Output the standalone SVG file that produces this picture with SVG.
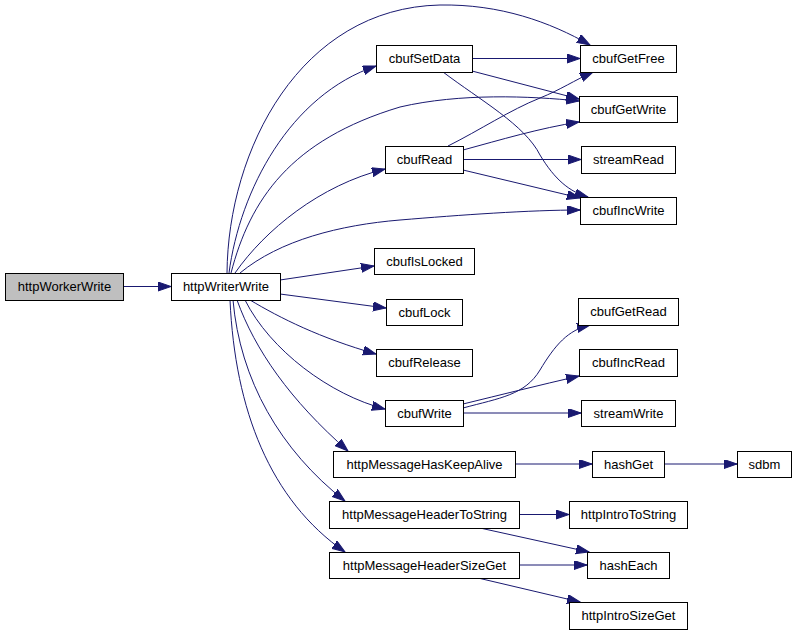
<svg xmlns="http://www.w3.org/2000/svg" width="797" height="634" viewBox="0 0 797 634">
<style>
.n rect{fill:#fff;stroke:#000;stroke-width:1}
.n text{font-family:"Liberation Sans",Arial,sans-serif;font-size:13px;text-anchor:middle;fill:#000}
#edges path{fill:none;stroke:#191970;stroke-width:1;marker-end:url(#a)}
</style>
<defs>
<marker id="a" markerUnits="userSpaceOnUse" markerWidth="14" markerHeight="10" refX="13" refY="4.5" orient="auto">
<path d="M0,0 L13,4.5 L0,9 z" fill="#191970" stroke="#191970" stroke-width="1"/>
</marker>
</defs>
<rect width="797" height="634" fill="#fff"/>
<g id="edges">
<path d="M123,286.5 L171,286.5"/>
<path d="M227,273 C228,150 300,8 440,5 C500,4 550,22 590,45"/>
<path d="M229,273 C240,190 290,95 376,66"/>
<path d="M231,273 C250,200 290,140 400,107 C460,93 530,96 579,101"/>
<path d="M235,273 C265,230 320,185 385,169"/>
<path d="M240,273 C280,240 340,225 400,220 C460,215 530,210 580,210"/>
<path d="M280,280 L374,266"/>
<path d="M280,294 L386,308"/>
<path d="M250,300 C280,318 320,338 376,354"/>
<path d="M245,300 C270,350 330,395 385,409"/>
<path d="M237,300 C255,350 290,400 348,451"/>
<path d="M233,300 C240,380 280,450 345,501"/>
<path d="M230,300 C235,410 270,500 345,552"/>
<path d="M472,58.5 L580,58.5"/>
<path d="M472,71 L579,99"/>
<path d="M443,72 C480,100 525,125 540,155 C555,180 570,192 588,197"/>
<path d="M448,146 C480,130 510,110 540,98 C560,90 575,80 593,72"/>
<path d="M463,150 C500,140 540,128 579,122"/>
<path d="M463,159.5 L581,159.5"/>
<path d="M463,170 L580,198"/>
<path d="M463,408 C500,398 525,395 540,370 C555,345 568,330 590,325"/>
<path d="M463,404 C500,395 540,385 579,376"/>
<path d="M463,413 L581,413"/>
<path d="M515,464 L592,464"/>
<path d="M664,464 L737,464"/>
<path d="M519,514.5 L569,514.5"/>
<path d="M480,528 L589,552"/>
<path d="M519,565 L587,565"/>
<path d="M478,578 L580,602"/>
</g>
<g id="httpWorkerWrite" class="n"><rect x="5.5" y="273.5" width="118" height="27" style="fill:#bfbfbf"/><text x="64.5" y="291">httpWorkerWrite</text></g>
<g id="httpWriterWrite" class="n"><rect x="171.5" y="273.5" width="109" height="27"/><text x="226" y="291">httpWriterWrite</text></g>
<g id="cbufSetData" class="n"><rect x="376.5" y="45.5" width="96" height="27"/><text x="424.5" y="63">cbufSetData</text></g>
<g id="cbufGetFree" class="n"><rect x="580.5" y="45.5" width="96" height="27"/><text x="628.5" y="63">cbufGetFree</text></g>
<g id="cbufGetWrite" class="n"><rect x="579.5" y="96.5" width="98" height="26"/><text x="628.5" y="113.5">cbufGetWrite</text></g>
<g id="cbufRead" class="n"><rect x="385.5" y="146.5" width="78" height="27"/><text x="424.5" y="164">cbufRead</text></g>
<g id="streamRead" class="n"><rect x="581.5" y="146.5" width="94" height="27"/><text x="628.5" y="164">streamRead</text></g>
<g id="cbufIncWrite" class="n"><rect x="580.5" y="197.5" width="96" height="27"/><text x="628.5" y="215">cbufIncWrite</text></g>
<g id="cbufIsLocked" class="n"><rect x="374.5" y="248.5" width="100" height="26"/><text x="424.5" y="265.5">cbufIsLocked</text></g>
<g id="cbufLock" class="n"><rect x="386.5" y="299.5" width="76" height="26"/><text x="424.5" y="316.5">cbufLock</text></g>
<g id="cbufGetRead" class="n"><rect x="578.5" y="298.5" width="100" height="27"/><text x="628.5" y="316">cbufGetRead</text></g>
<g id="cbufRelease" class="n"><rect x="376.5" y="349.5" width="96" height="27"/><text x="424.5" y="367">cbufRelease</text></g>
<g id="cbufIncRead" class="n"><rect x="579.5" y="349.5" width="98" height="27"/><text x="628.5" y="367">cbufIncRead</text></g>
<g id="cbufWrite" class="n"><rect x="385.5" y="400.5" width="78" height="26"/><text x="424.5" y="417.5">cbufWrite</text></g>
<g id="streamWrite" class="n"><rect x="581.5" y="400.5" width="94" height="26"/><text x="628.5" y="417.5">streamWrite</text></g>
<g id="httpMessageHasKeepAlive" class="n"><rect x="333.5" y="451.5" width="182" height="26"/><text x="424.5" y="468.5">httpMessageHasKeepAlive</text></g>
<g id="hashGet" class="n"><rect x="592.5" y="451.5" width="72" height="26"/><text x="628.5" y="468.5">hashGet</text></g>
<g id="sdbm" class="n"><rect x="737.5" y="451.5" width="54" height="26"/><text x="764.5" y="468.5">sdbm</text></g>
<g id="httpMessageHeaderToString" class="n"><rect x="329.5" y="501.5" width="190" height="27"/><text x="424.5" y="519">httpMessageHeaderToString</text></g>
<g id="httpIntroToString" class="n"><rect x="569.5" y="501.5" width="118" height="27"/><text x="628.5" y="519">httpIntroToString</text></g>
<g id="httpMessageHeaderSizeGet" class="n"><rect x="329.5" y="552.5" width="190" height="26"/><text x="424.5" y="569.5">httpMessageHeaderSizeGet</text></g>
<g id="hashEach" class="n"><rect x="587.5" y="552.5" width="82" height="26"/><text x="628.5" y="569.5">hashEach</text></g>
<g id="httpIntroSizeGet" class="n"><rect x="569.5" y="602.5" width="118" height="27"/><text x="628.5" y="620">httpIntroSizeGet</text></g>
</svg>
